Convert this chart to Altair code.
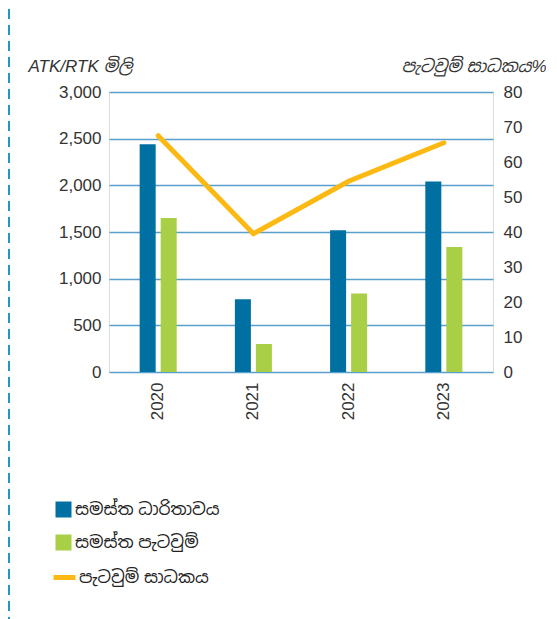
import altair as alt
import pandas as pd

years = ["2020", "2021", "2022", "2023"]
capacity = [2440, 780, 1520, 2040]        # සමස්ත ධාරිතාවය (ATK, million)
load = [1650, 300, 840, 1340]             # සමස්ත පැටවුම් (RTK, million)
load_factor = [67.5, 39.5, 54.5, 65.5]    # පැටවුම් සාධකය %

s_cap = "සමස්ත ධාරිතාවය"
s_load = "සමස්ත පැටවුම්"
s_lf = "පැටවුම් සාධකය"

bars = pd.DataFrame({
    "year": years * 2,
    "series": [s_cap] * 4 + [s_load] * 4,
    "value": capacity + load,
})
line = pd.DataFrame({"year": years, "lf": load_factor, "series": [s_lf] * 4})

FONT = "Liberation Sans, Noto Sans Sinhala, Noto Sans, sans-serif"

xenc = alt.X("year:N", title=None,
             scale=alt.Scale(paddingInner=0.611, paddingOuter=0.322),
             axis=alt.Axis(labelAngle=-90, domain=False, ticks=False,
                           labelPadding=10, labelFontSize=17,
                           labelColor="#333333", labelFont=FONT))

bar = alt.Chart(bars).mark_bar().encode(
    x=xenc,
    xOffset=alt.XOffset("series:N", sort=[s_cap, s_load],
                        scale=alt.Scale(paddingInner=0.238, paddingOuter=0)),
    y=alt.Y("value:Q", scale=alt.Scale(domain=[0, 3000]),
            axis=alt.Axis(values=list(range(0, 3001, 500)), format=",.0f",
                          grid=True, gridColor="#5a9fcc", gridWidth=1.5,
                          domain=False, ticks=False, labelPadding=8,
                          labelFontSize=17, labelColor="#333333", labelFont=FONT,
                          title="ATK/RTK මිලි", titleAngle=0, titleAlign="left",
                          titleBaseline="alphabetic", titleX=-81, titleY=-21,
                          titleFontStyle="italic", titleFontWeight="normal",
                          titleFontSize=17, titleColor="#333333", titleFont=FONT)),
    color=alt.Color("series:N", sort=[s_cap, s_load],
                    scale=alt.Scale(domain=[s_cap, s_load], range=["#0070a3", "#a8cf45"]),
                    legend=alt.Legend(title=None, orient="none", legendX=-54, legendY=409,
                                      symbolType="square", symbolSize=256,
                                      symbolStrokeWidth=0, labelFontSize=17,
                                      labelFont=FONT, labelColor="#222222",
                                      labelOffset=3, rowPadding=15, padding=0)),
)

ln = alt.Chart(line).mark_line(strokeWidth=5, strokeCap="round", strokeJoin="miter").encode(
    x=alt.X("year:N"),
    y=alt.Y("lf:Q", scale=alt.Scale(domain=[0, 80]),
            axis=alt.Axis(orient="right", values=list(range(0, 81, 10)),
                          grid=False, domain=False, ticks=False, labelPadding=10,
                          labelFontSize=17, labelColor="#333333", labelFont=FONT,
                          title="පැටවුම් සාධකය%", titleAngle=0, titleAlign="right",
                          titleBaseline="alphabetic", titleX=53, titleY=-21,
                          titleFontStyle="italic", titleFontWeight="normal",
                          titleFontSize=17, titleColor="#333333", titleFont=FONT)),
    stroke=alt.Stroke("series:N",
                      scale=alt.Scale(domain=[s_lf], range=["#fdb913"]),
                      legend=alt.Legend(title=None, orient="none", legendX=-58, legendY=472,
                                        symbolType="stroke", symbolSize=484,
                                        symbolStrokeWidth=5, labelFontSize=17,
                                        labelFont=FONT, labelColor="#222222",
                                        labelOffset=1, padding=0)),
)

dash = alt.Chart(pd.DataFrame({"d": [0]})).mark_rule(
    color="#2596c8", strokeWidth=2, strokeDash=[10, 6]
).encode(x=alt.value(-100), y=alt.value(-83), y2=alt.value(528))

chart = alt.layer(bar, ln, dash).resolve_scale(
    y="independent", color="independent", stroke="independent"
).properties(
    width=384, height=280, padding=0
).configure_view(stroke=None).configure(font=FONT)

chart.save("out.html", embed_options={"renderer": "svg", "actions": False})
